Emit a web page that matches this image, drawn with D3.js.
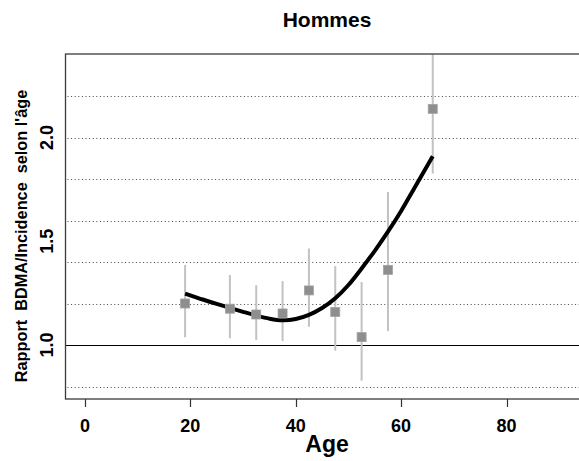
<!DOCTYPE html>
<html><head><meta charset="utf-8">
<script src="https://cdn.jsdelivr.net/npm/d3@7"></script>
<style>body{margin:0;background:#fff}svg{display:block;font-family:"Liberation Sans",Arial,sans-serif}</style>
</head><body>
<script>
const title = "Hommes";
const xLabel = "Age";
const yLabel = "Rapport  BDMA/Incidence  selon l'âge";
const xTicks = [0, 20, 40, 60, 80];
const yTicks = [1.0, 1.5, 2.0];
const gridValues = [0.8, 1.2, 1.4, 1.6, 1.8, 2.0, 2.2];
const ages = [19, 27.5, 32.5, 37.5, 42.5, 47.5, 52.5, 57.5, 66];
const ratio = [1.20, 1.175, 1.147, 1.152, 1.263, 1.159, 1.038, 1.362, 2.138];
const lower = [1.037, 1.032, 1.024, 1.019, 1.088, 0.973, 0.828, 1.067, 1.826];
const upper = [1.385, 1.337, 1.288, 1.308, 1.465, 1.380, 1.304, 1.737, 2.50];
const curveAges = [19, 22.5, 25, 27.5, 30, 32.5, 35, 37.5, 40, 42.5, 45, 47.5, 50, 52.5, 55, 57.5, 60, 62.5, 66];
const curveVals = [1.248, 1.218, 1.198, 1.179, 1.160, 1.142, 1.127, 1.119, 1.125, 1.145, 1.178, 1.225, 1.289, 1.369, 1.454, 1.546, 1.646, 1.756, 1.910];

const W = 579, H = 461;
const L = 65.5, T = 54, R = 588.5, B = 399;
const svg = d3.select("body").append("svg").attr("width", W).attr("height", H);
svg.append("rect").attr("width", W).attr("height", H).attr("fill", "#fff");

const x = d3.scaleLinear().domain([0, 80]).range([85, 506.5]);
const y = d3.scaleLinear().domain([1.0, 2.0]).range([345, 137.5]);

svg.append("defs").append("clipPath").attr("id", "clip")
  .append("rect").attr("x", L).attr("y", T).attr("width", R - L).attr("height", B - T);

const g = svg.append("g").attr("clip-path", "url(#clip)");

// dotted grid
g.selectAll("line.grid").data(gridValues).join("line")
  .attr("x1", L + 2).attr("x2", R)
  .attr("y1", d => Math.round(y(d)) + 0.5).attr("y2", d => Math.round(y(d)) + 0.5)
  .attr("stroke", "#444").attr("stroke-width", 1).attr("stroke-dasharray", "1,2.6");

// reference line at 1
g.append("line").attr("x1", L).attr("x2", R)
  .attr("y1", Math.round(y(1)) + 0.5).attr("y2", Math.round(y(1)) + 0.5)
  .attr("stroke", "#000").attr("stroke-width", 1);

// error bars
g.selectAll("line.err").data(ages).join("line")
  .attr("x1", d => x(d)).attr("x2", d => x(d))
  .attr("y1", (d, i) => y(lower[i])).attr("y2", (d, i) => y(upper[i]))
  .attr("stroke", "#c2c2c2").attr("stroke-width", 2);

// curve
const pts = curveAges.map((a, i) => [a, curveVals[i]]);
g.append("path").datum(pts)
  .attr("d", d3.line().x(d => x(d[0])).y(d => y(d[1])).curve(d3.curveCatmullRom))
  .attr("fill", "none").attr("stroke", "#000").attr("stroke-width", 4);

// points
const s = 9;
g.selectAll("rect.pt").data(ages).join("rect")
  .attr("x", d => x(d) - s / 2).attr("y", (d, i) => y(ratio[i]) - s / 2)
  .attr("width", s).attr("height", s)
  .attr("fill", "#8e8e8e").attr("stroke", "#a2a2a2").attr("stroke-width", 0.8);

// box
svg.append("rect").attr("x", L).attr("y", T).attr("width", R - L).attr("height", B - T)
  .attr("fill", "none").attr("stroke", "#3a3a3a").attr("stroke-width", 1.3);

// x axis ticks
svg.selectAll("line.xt").data(xTicks).join("line")
  .attr("x1", d => Math.round(x(d)) + 0.5).attr("x2", d => Math.round(x(d)) + 0.5)
  .attr("y1", B).attr("y2", B + 8).attr("stroke", "#333").attr("stroke-width", 1.2);
svg.selectAll("text.xt").data(xTicks).join("text")
  .attr("x", d => x(d)).attr("y", 432).attr("text-anchor", "middle")
  .attr("font-size", 18).attr("font-weight", "bold").text(d => d);

// y tick labels (rotated)
svg.selectAll("text.yt").data(yTicks).join("text")
  .attr("transform", d => `translate(53,${y(d)}) rotate(-90)`)
  .attr("text-anchor", "middle").attr("font-size", 18).attr("font-weight", "bold")
  .text(d => d.toFixed(1));

// labels
svg.append("text").attr("x", 327).attr("y", 452).attr("text-anchor", "middle")
  .attr("font-size", 23).attr("font-weight", "bold").text(xLabel);
svg.append("text").attr("transform", `translate(27,236) rotate(-90)`)
  .attr("text-anchor", "middle").attr("font-size", 16.3).attr("font-weight", "bold")
  .style("white-space", "pre").attr("xml:space", "preserve").text(yLabel);
svg.append("text").attr("x", 327).attr("y", 27).attr("text-anchor", "middle")
  .attr("font-size", 21).attr("font-weight", "bold").text(title);
</script>
</body></html>
